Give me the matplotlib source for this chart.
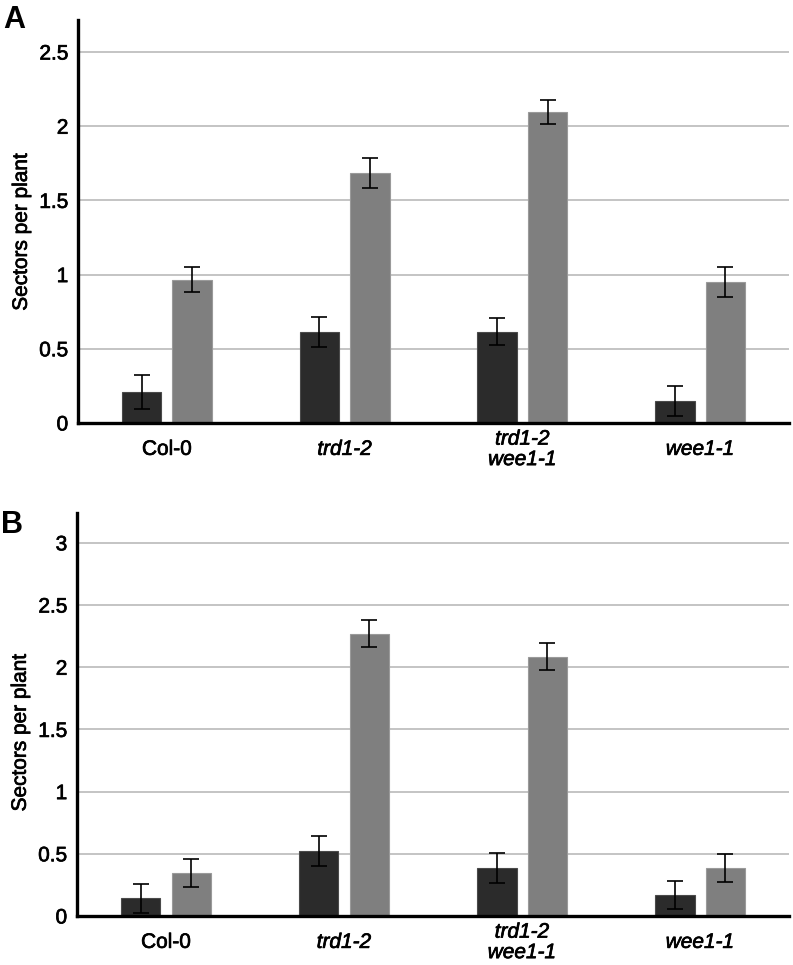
import matplotlib.pyplot as plt
import matplotlib.patheffects as pe
import numpy as np

plt.rcParams["font.family"] = ["Liberation Sans", "DejaVu Sans"]

categories = ["Col-0", "trd1-2", "trd1-2\nwee1-1", "wee1-1"]
italic = [False, True, True, True]

# panel A
a_dark = [0.21, 0.615, 0.615, 0.15]
a_dark_err = [0.115, 0.10, 0.09, 0.10]
a_light = [0.965, 1.685, 2.098, 0.948]
a_light_err = [0.085, 0.10, 0.08, 0.10]

# panel B
b_dark = [0.142, 0.525, 0.383, 0.17]
b_dark_err = [0.115, 0.12, 0.12, 0.11]
b_light = [0.345, 2.27, 2.086, 0.385]
b_light_err = [0.115, 0.107, 0.11, 0.11]

DARK = "#2b2b2b"
LIGHT = "#7f7f7f"
W = 0.222
OFF = 0.142
# text in the source is a bit heavier than plain Liberation Sans
HEAVY = [pe.withStroke(linewidth=0.5, foreground="black")]

fig = plt.figure(figsize=(7.93, 9.65), dpi=100)
ax_a = fig.add_axes([0.0984, 0.5617, 0.8966, 0.4176])
ax_b = fig.add_axes([0.0971, 0.0508, 0.8979, 0.4176])


def panel(ax, dark, dark_err, light, light_err, ymax, ticks, letter, letter_xy, label_y):
    x = np.arange(len(categories))
    ekw = dict(ecolor="black", elinewidth=1.2, capsize=6, capthick=1.2)
    ax.bar(x - OFF, dark, W, color=DARK, edgecolor="#4a4a4a", linewidth=0.8,
           yerr=dark_err, error_kw=ekw, zorder=3)
    ax.bar(x + OFF, light, W, color=LIGHT, edgecolor="#9a9a9a", linewidth=0.8,
           yerr=light_err, error_kw=ekw, zorder=3)
    ax.set_xlim(-0.5, len(categories) - 0.5)
    ax.set_ylim(0, ymax)
    ax.set_yticks(ticks)
    ax.set_yticklabels([f"{t:g}" for t in ticks])
    ax.yaxis.grid(True, color="#c4c4c4", linewidth=1.4, zorder=0)
    ax.set_axisbelow(True)
    for s in ("top", "right"):
        ax.spines[s].set_visible(False)
    for s in ("left", "bottom"):
        ax.spines[s].set_linewidth(2.4)
        ax.spines[s].set_zorder(4)
    ax.tick_params(axis="both", length=0, labelsize=15)
    ax.tick_params(axis="y", pad=7)
    ax.tick_params(axis="x", pad=19)
    ax.set_xticks(x)
    ax.set_xticklabels(categories, fontsize=15, linespacing=1.1)
    for lab, it in zip(ax.get_xticklabels(), italic):
        lab.set_va("center")
        if it:
            lab.set_style("italic")
    for lab in ax.get_xticklabels() + ax.get_yticklabels():
        lab.set_path_effects(HEAVY)
    yl = ax.set_ylabel("Sectors per plant", fontsize=15, labelpad=6)
    yl.set_path_effects(HEAVY)
    ax.yaxis.label.set_y(label_y)
    fig.text(letter_xy[0], letter_xy[1], letter, fontsize=22,
             fontweight="bold", ha="left", va="top")


panel(ax_a, a_dark, a_dark_err, a_light, a_light_err, 2.716,
      [0, 0.5, 1, 1.5, 2, 2.5], "A", (0.004, 0.995), 0.474)
panel(ax_b, b_dark, b_dark_err, b_light, b_light_err, 3.24,
      [0, 0.5, 1, 1.5, 2, 2.5, 3], "B", (0.001, 0.471), 0.455)

fig.savefig("out.png", dpi=100)
